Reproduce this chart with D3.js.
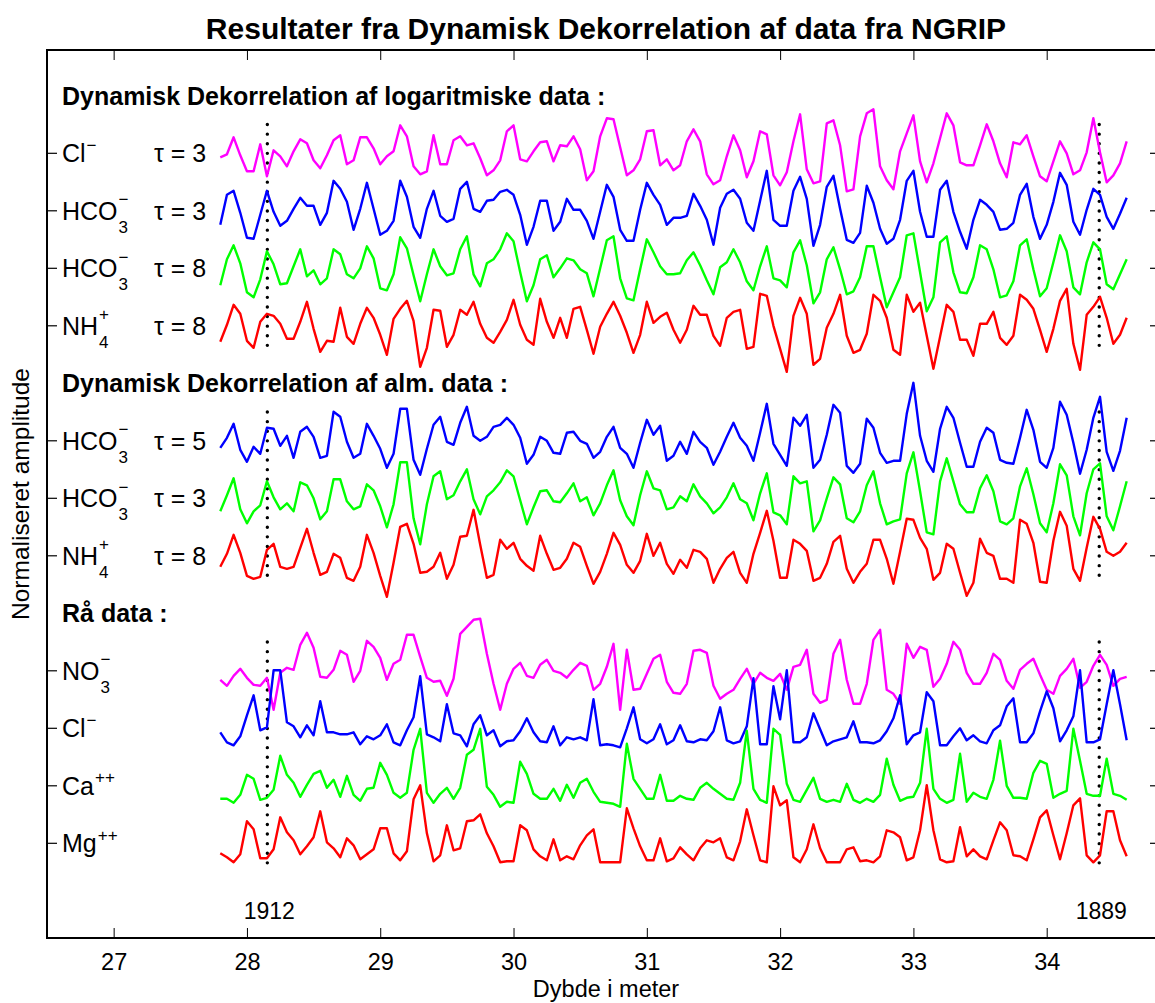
<!DOCTYPE html>
<html>
<head>
<meta charset="utf-8">
<title>Dynamisk Dekorrelation NGRIP</title>
<script src="https://d3js.org/d3.v7.min.js"></script>
<style>
 body { margin:0; background:#fff; }
 text { font-family: "Liberation Sans", Arial, Helvetica, sans-serif; fill:#000; }
 .title { font-size:30px; font-weight:bold; }
 .heading { font-size:25px; font-weight:bold; }
 .lbl { font-size:25px; }
 .small { font-size:17px; }
 .axis text { font-size:23.5px; }
 .series { fill:none; stroke-width:2.4; stroke-linejoin:round; }
 .marker { stroke:#000; stroke-width:3.4; stroke-linecap:round; stroke-dasharray:0 9.6; }
</style>
</head>
<body>
<div id="chart"></div>
<script>
// depth axis: one sample every 5 cm
var depthStart = 27.8, depthStep = 0.05;

// Dynamisk dekorrelation af logaritmiske data
var logCl = [-4,-1,16,-2,-18,-18,9,-23,3,-3,-13,2,14,10,-7,-15,-2,13,18,-11,-7,16,16,5,-11,-3,2,28,17,-13,-21,-18,18,-11,-11,13,17,8,10,-5,-22,-17,-7,22,
  28,-6,-8,2,11,12,-8,8,7,17,4,-27,-18,17,35,34,6,-22,-17,-6,22,23,-12,-6,-17,-12,12,24,12,-21,-31,-27,-3,18,3,-24,-8,22,19,-22,-32,-19,12,39,-16,
  -30,-28,30,33,8,-38,-36,17,40,44,-13,-27,-36,2,20,38,-8,-29,-10,15,40,28,-9,-12,-12,8,29,12,-10,-24,11,9,18,-3,-23,-28,-8,12,0,-21,-17,1,35,1,-29,-22,-10,12];
var logHCO3t3 = [-14,16,20,-2,-27,-28,-4,20,-1,-15,-10,2,13,5,5,-14,-2,30,22,9,-19,2,28,2,-24,-20,-10,30,14,-16,-27,2,20,-5,-11,-8,22,29,2,-1,10,11,19,21,
  16,-4,-34,-16,10,10,-20,-11,12,1,1,-10,-28,-1,26,14,-19,-30,-30,1,28,16,6,-14,-7,-7,-5,17,5,-9,-34,3,17,21,12,-12,-20,10,40,-9,-15,-15,20,34,12,
  -35,-14,24,35,2,-29,-32,-22,25,8,-18,-33,-28,-9,30,40,-1,-26,-26,21,30,-1,-21,-38,-9,11,6,-1,-19,-18,-12,16,27,-6,-28,-14,9,38,26,-11,-24,1,22,16,-6,-18,-3,13];
var logHCO3t8 = [-17,9,23,5,-24,-29,-11,17,4,-16,-15,2,19,-8,-2,-16,-10,19,14,-6,-10,0,22,10,-20,-22,-6,31,20,-7,-33,-6,19,2,-7,-5,19,32,-6,-18,5,9,19,35,
  27,-4,-33,-17,9,13,-9,0,10,8,-1,-5,-28,0,28,32,-10,-30,-32,-1,29,16,2,-6,-6,-5,8,16,3,-12,-26,1,6,19,6,-13,-22,2,22,-10,-12,-19,16,28,3,
  -35,-24,9,21,-1,-26,-23,-9,22,22,-9,-39,-24,-9,33,35,-4,-43,-29,26,32,-4,-24,-25,-9,23,19,-1,-29,-27,-13,23,29,-1,-28,-20,6,33,17,-19,-26,6,26,19,-16,-21,-6,9];
var logNH4t8 = [-16,1,21,12,-15,-22,4,12,10,2,-13,-13,4,24,-3,-26,-15,-16,18,-11,-18,2,18,8,-9,-29,7,17,25,5,-41,-22,16,15,-21,-9,16,11,24,2,-12,-17,-6,6,
  26,1,-14,-19,27,4,-12,8,-12,17,19,-4,-28,-1,12,24,10,-7,-27,-9,24,3,9,13,-4,-17,-4,20,11,11,-10,-20,8,14,16,-23,-21,32,30,0,-23,-46,10,28,12,
  -39,-33,-2,12,31,-10,-27,-24,-8,31,25,8,-24,-29,31,14,23,-10,-43,-11,21,14,-14,-14,-30,2,2,14,-12,-19,-10,31,26,17,-4,-26,-3,25,37,-18,-44,11,19,29,8,-18,-9,8];

// Dynamisk dekorrelation af alm. data
var almHCO3t5 = [-7,3,17,-9,-21,-6,-13,13,12,-5,5,-17,9,14,4,-17,-15,29,24,-1,-17,-13,17,5,-8,-27,-13,32,32,-19,-34,-8,16,24,-1,-4,18,34,5,0,4,14,16,23,
  16,3,-23,-14,4,0,-12,-13,8,9,0,-3,-17,-11,4,14,-7,-13,-27,-2,21,6,15,-20,-15,-1,-13,9,-1,-7,-24,-11,4,18,3,-5,-20,8,37,-3,-14,-25,23,15,26,
  -27,-19,6,36,28,-25,-32,-23,22,13,-12,-22,-20,-20,27,58,5,-20,-31,12,34,23,-2,-26,-26,-1,13,8,-19,-22,-23,3,31,11,-21,-27,-7,39,26,-2,-33,-9,23,44,-11,-30,-10,23];
var almHCO3t3 = [-13,3,20,-11,-25,-13,-7,17,1,-11,-5,-13,16,13,0,-21,-13,19,19,-3,-11,-8,14,8,-8,-29,-6,36,36,-20,-46,-6,22,27,-1,3,17,29,-1,-16,2,8,16,28,
  22,-2,-26,-9,7,8,-3,-4,5,15,-3,1,-17,-5,13,28,-2,-18,-27,3,27,10,8,-11,-9,2,-3,14,2,-5,-15,-9,1,15,-1,-5,-22,5,25,-14,-17,-26,22,15,17,
  -33,-22,0,21,14,-20,-24,-13,13,27,-5,-26,-23,-21,25,46,7,-34,-36,17,40,17,-6,-14,-14,10,23,7,-23,-26,-20,12,30,4,-25,-34,-5,34,23,-18,-37,5,29,35,-18,-32,-8,17];
var almNH4t8 = [-11,2,21,3,-20,-23,-21,6,12,-11,-13,-11,8,27,3,-19,-16,2,-2,-22,-25,-11,21,3,-20,-41,-7,29,32,12,-17,-16,-11,3,-23,-9,19,20,46,11,-22,-19,16,7,
  13,-3,-10,-15,20,2,-14,-12,-3,13,9,-10,-28,-16,2,23,11,-9,-17,-5,22,0,13,-8,-18,-4,-12,6,4,-3,-27,-13,-2,4,-17,-27,2,23,45,15,-22,-22,16,12,5,
  -25,-22,-8,14,20,-13,-27,-16,-8,16,16,-3,-28,4,37,36,18,7,-24,-17,12,7,-17,-40,-27,17,3,0,-23,-23,-27,36,32,13,-26,-27,15,44,30,-13,-25,8,39,27,4,0,4,13];

// Raa data
var rawNO3 = [-9,-15,-5,2,-7,-14,-15,-7,-39,-2,3,1,26,38,23,-6,-7,1,20,16,-11,0,30,24,13,-9,7,11,36,36,14,-7,-11,-10,-25,-8,37,44,51,52,17,-13,-39,-13,
  2,8,-5,-7,6,11,0,-2,-7,1,8,5,-19,-13,4,27,-39,21,-19,-18,-3,12,16,-11,-22,-23,-13,20,21,18,-15,-28,-23,-19,-8,2,-13,-2,-7,-10,-3,-19,4,6,21,
  -23,-32,-29,17,31,-9,-33,-33,-13,31,41,-19,-23,-33,27,13,24,21,-16,-8,7,29,21,-2,-13,-13,-2,17,11,-10,-18,1,7,12,-4,-19,-23,-5,2,12,-17,-11,5,16,6,-15,-8,-6];
var rawCl = [-4,-14,-17,-8,13,33,-2,1,58,58,6,2,-9,3,-7,27,-4,-4,-6,-6,-4,-16,-8,-11,-7,4,-14,-17,-2,11,52,-6,-9,-13,24,-5,-7,-18,4,13,-7,-2,-18,-13,
  -12,-3,10,-4,-13,-14,2,-17,-9,-11,-9,-12,29,-17,-16,-17,-19,0,21,-11,-15,-11,4,-16,-12,3,-13,-14,-11,-12,-3,21,-12,-15,-13,2,50,-16,-16,42,9,58,-14,-14,-9,
  15,-1,-17,-13,-11,-9,7,-14,-14,-15,-12,-3,10,33,-16,-7,-4,36,27,-17,-17,-8,0,-12,-7,-13,-15,-2,3,22,30,-14,-14,-5,17,37,20,-13,-2,12,58,-14,-14,-11,24,58,24,-12];
var rawCa = [-13,-13,-17,-9,11,7,-14,-12,-4,30,11,3,-11,1,12,15,-2,6,-11,10,-9,-15,-3,-2,23,11,-7,-12,-7,36,57,-7,-17,-8,-2,-13,-2,31,36,57,-1,-9,-21,-16,
  -17,24,12,-8,-13,-13,-3,-15,1,-12,3,7,-6,-16,-17,-18,-21,42,7,-3,-13,-13,11,-15,-15,-10,-13,-14,-2,3,-3,-8,-13,-14,3,55,-3,-14,-17,57,51,2,-14,-16,-4,
  8,-13,-16,-14,-16,2,-14,-17,-13,-16,-9,27,1,-15,-12,-11,3,57,-3,-13,-17,-14,32,-16,-7,-11,-13,6,45,0,-12,-12,-13,13,25,22,-12,-8,-5,57,25,-8,-10,-10,27,-8,-10,-14];
var rawMg = [-10,-14,-19,-11,22,14,-15,-15,-6,26,11,3,-11,-3,6,32,1,-5,-14,5,-2,-16,-11,-6,15,15,-10,-17,-8,44,58,10,-18,-12,18,-7,-5,22,23,29,10,-3,-19,-18,
  -18,18,13,-6,-13,-17,4,-17,-13,-16,-2,8,14,-19,-19,-19,-19,35,15,-3,-17,-17,5,-18,-15,-4,-11,-17,-5,3,1,5,-14,-17,2,34,8,-17,-19,57,38,43,-14,-19,-6,
  19,-5,-19,-19,-19,-6,-4,-18,-17,-19,-13,13,11,6,-17,-14,13,58,13,-16,-19,-18,16,-13,-6,-13,-16,3,21,13,-12,-13,-17,4,26,33,8,-16,10,38,45,-12,-19,-12,32,32,3,-13];

var xTicks = [27, 28, 29, 30, 31, 32, 33, 34];
var yearDepths = [28.153, 34.394];
var yearLabels = ["1912", "1889"];
var headings = ["Dynamisk Dekorrelation af logaritmiske data :", "Dynamisk Dekorrelation af alm. data :", "R\u00e5 data :"];
var headingRows = [-1, 4, 8];

var series = [
  {values: logCl,     row: 0,  color: "#ff00ff", base: "Cl",  sub: "",  sup: "\u2212", tau: 3},
  {values: logHCO3t3, row: 1,  color: "#0000ff", base: "HCO", sub: "3", sup: "\u2212", tau: 3},
  {values: logHCO3t8, row: 2,  color: "#00ff00", base: "HCO", sub: "3", sup: "\u2212", tau: 8},
  {values: logNH4t8,  row: 3,  color: "#ff0000", base: "NH",  sub: "4", sup: "+",      tau: 8},
  {values: almHCO3t5, row: 5,  color: "#0000ff", base: "HCO", sub: "3", sup: "\u2212", tau: 5},
  {values: almHCO3t3, row: 6,  color: "#00ff00", base: "HCO", sub: "3", sup: "\u2212", tau: 3},
  {values: almNH4t8,  row: 7,  color: "#ff0000", base: "NH",  sub: "4", sup: "+",      tau: 8},
  {values: rawNO3,    row: 9,  color: "#ff00ff", base: "NO",  sub: "3", sup: "\u2212", tau: null},
  {values: rawCl,     row: 10, color: "#0000ff", base: "Cl",  sub: "",  sup: "\u2212", tau: null},
  {values: rawCa,     row: 11, color: "#00ff00", base: "Ca",  sub: "",  sup: "++",     tau: null},
  {values: rawMg,     row: 12, color: "#ff0000", base: "Mg",  sub: "",  sup: "++",     tau: null}
];
// dotted year markers span these row ranges
var markerGroups = [[-0.5, 3.5], [4.5, 7.5], [8.5, 12.5]];

var width = 1155, height = 1003;
var box = {left: 47, top: 50, right: 1160, bottom: 938};
var rowGap = 57.5;

var svg = d3.select("#chart").append("svg")
  .attr("width", width)
  .attr("height", height);

var x = d3.scaleLinear().domain([26.5, 34.85]).range([box.left, box.right]);
var y = d3.scaleLinear().domain([-784.7, 103.3]).range([box.bottom, box.top]);
function rowY(r) { return y(-rowGap * r); }

// title
svg.append("text")
  .attr("class", "title")
  .attr("x", 606)
  .attr("y", 39)
  .style("text-anchor", "middle")
  .text("Resultater fra Dynamisk Dekorrelation af data fra NGRIP");

// x axis (ticks inside the box)
svg.append("g")
  .attr("class", "axis")
  .attr("transform", "translate(0," + box.bottom + ")")
  .call(d3.axisBottom(x).tickValues(xTicks).tickFormat(d3.format("d")).tickSize(-10).tickPadding(15))
  .call(function(g) { g.select(".domain").remove(); });
svg.append("g")
  .attr("transform", "translate(0," + box.top + ")")
  .call(d3.axisTop(x).tickValues(xTicks).tickFormat("").tickSize(-10))
  .call(function(g) { g.select(".domain").remove(); });

svg.append("text")
  .attr("x", 606)
  .attr("y", 997)
  .style("text-anchor", "middle")
  .style("font-size", "23.5px")
  .text("Dybde i meter");

svg.append("text")
  .attr("transform", "translate(29," + ((box.top + box.bottom) / 2) + ") rotate(-90)")
  .style("text-anchor", "middle")
  .style("font-size", "24.5px")
  .text("Normaliseret amplitude");

// box
svg.append("rect")
  .attr("x", box.left).attr("y", box.top)
  .attr("width", box.right - box.left).attr("height", box.bottom - box.top)
  .attr("fill", "none").attr("stroke", "#000").attr("stroke-width", 2);

// row ticks on both sides
var tickRows = series.map(function(s) { return s.row; });
svg.selectAll(".ltick").data(tickRows).enter().append("line")
  .attr("x1", box.left).attr("x2", box.left + 10)
  .attr("y1", function(r) { return rowY(r); }).attr("y2", function(r) { return rowY(r); })
  .attr("stroke", "#000").attr("stroke-width", 1.2);
svg.selectAll(".rtick").data(tickRows).enter().append("line")
  .attr("x1", box.right - 10).attr("x2", box.right)
  .attr("y1", function(r) { return rowY(r); }).attr("y2", function(r) { return rowY(r); })
  .attr("stroke", "#000").attr("stroke-width", 1.2);

// headings
headings.forEach(function(h, i) {
  svg.append("text").attr("class", "heading")
    .attr("x", 62).attr("y", rowY(headingRows[i]) + 9)
    .text(h);
});

// row labels
series.forEach(function(s) {
  var yy = rowY(s.row);
  var t = svg.append("text").attr("class", "lbl").attr("x", 62).attr("y", yy + 9).text(s.base);
  var w = t.node().getComputedTextLength();
  if (s.sub) svg.append("text").attr("class", "small").attr("x", 62 + w + 1).attr("y", yy + 22).text(s.sub);
  if (s.sup) svg.append("text").attr("class", "small").attr("x", 62 + w + 1).attr("y", yy + (s.sub ? -5.5 : -2.5)).text(s.sup);
  if (s.tau !== null) {
    svg.append("text").attr("class", "lbl").attr("x", 154).attr("y", yy + 9).text("\u03c4 = " + s.tau);
  }
});

// year markers
yearDepths.forEach(function(d, i) {
  markerGroups.forEach(function(gr) {
    svg.append("line").attr("class", "marker")
      .attr("x1", x(d)).attr("x2", x(d))
      .attr("y1", rowY(gr[0])).attr("y2", rowY(gr[1]));
  });
  svg.append("text")
    .attr("x", x(d) + 2).attr("y", 919)
    .style("text-anchor", "middle")
    .style("font-size", "23px")
    .text(yearLabels[i]);
});

// series
var line = d3.line()
  .x(function(d, i) { return x(depthStart + i * depthStep); });

series.forEach(function(s) {
  svg.append("path")
    .datum(s.values)
    .attr("class", "series")
    .attr("stroke", s.color)
    .attr("d", line.y(function(d) { return y(-rowGap * s.row + d); }));
});
</script>
</body>
</html>
